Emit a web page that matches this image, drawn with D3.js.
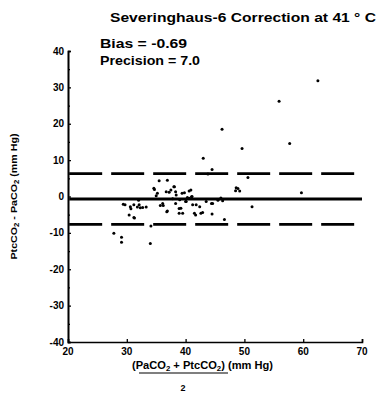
<!DOCTYPE html>
<html>
<head>
<meta charset="utf-8">
<script src="https://cdn.jsdelivr.net/npm/d3@7"></script>
<style>
  html, body { margin: 0; padding: 0; background: #fff; }
  svg { display: block; font-family: "Liberation Sans", Arial, sans-serif; font-weight: bold; }
</style>
</head>
<body>
<div id="chart"></div>
<script>
// mean of the two methods (x) and their difference (y)
const meanVals = [27.8, 29.1, 29.1, 29.4, 29.7, 30.4, 30.6, 30.7, 31.2, 31.2, 31.3, 31.8, 32.1, 32.3, 32.7, 33.3,
  34.0, 34.1, 34.6, 34.7, 35.2, 35.5, 35.7, 36.1, 36.2, 36.7, 36.8, 36.9, 36.9, 37.2, 37.5, 38.0, 38.1, 38.3, 38.3,
  38.4, 38.9, 38.9, 39.2, 39.4, 39.5, 39.8, 40.0, 40.1, 40.6, 40.6, 40.9, 41.1, 41.2, 41.5, 41.7, 41.8, 42.4, 42.6,
  42.9, 43.0, 43.5, 43.8, 44.4, 44.5, 44.5, 44.6, 45.5, 46.2, 46.3, 46.6, 48.5, 48.6, 48.9, 49.2, 49.6, 50.6, 51.3,
  55.9, 57.7, 59.7, 62.5, 35.0, 37.8, 39.0, 40.3, 41.0, 32.0, 46.0];
const diffVals = [-10.1, -11.2, -12.6, -2.1, -2.3, -5.1, -2.8, -3.4, -2.3, -5.8, -5.9, -2.9, -2.3, -3.1, -3.0, -2.9,
  -12.9, -8.1, 2.3, 1.9, 0.9, 4.3, -2.5, -1.9, -2.5, 1.3, -4.2, 4.5, -4.0, 1.2, 1.8, 2.7, 2.7, 1.3, -1.9,
  0.4, -3.3, -4.6, -3.2, 0.9, -4.6, 1.0, -1.4, -1.4, 1.5, -0.5, 1.8, 0.0, -2.3, -4.6, -5.1, -2.3, -2.8, -4.6,
  -4.4, 10.5, -1.4, 6.2, -1.9, 7.4, -4.8, -1.9, -1.0, 18.5, -1.2, -6.3, 1.6, 2.4, 2.2, 1.5, 13.2, 5.2, -2.8,
  26.2, 14.6, 1.0, 31.8, 0.2, -0.6, -0.9, -0.3, -0.1, -1.0, -0.4];

const bias = -0.69;
const precision = 7.0;
const xTicks = [20, 30, 40, 50, 60, 70];
const yTicks = [40, 30, 20, 10, 0, -10, -20, -30, -40];
const yMinor = [35, 25, 15, 5, -5, -15, -25, -35];

const title = "Severinghaus-6 Correction at 41 \u00B0 C";

const points = meanVals.map((m, i) => ({ mean: m, diff: diffVals[i] }));

const width = 380, height = 394;
const margin = { top: 51, right: 18, bottom: 52, left: 68 };
const innerWidth = width - margin.left - margin.right;
const innerHeight = height - margin.top - margin.bottom;

const svg = d3.select("#chart")
  .append("svg")
  .attr("width", width)
  .attr("height", height)
  .attr("viewBox", `0 0 ${width} ${height}`);

const g = svg.append("g")
  .attr("transform", `translate(${margin.left},${margin.top})`);

const x = d3.scaleLinear().domain([20, 70]).range([margin.left, margin.left + innerWidth]);
const y = d3.scaleLinear().domain([-40, 40]).range([margin.top + innerHeight, margin.top]);

// axes (lines and ticks only; labels are placed below from the same scales)
const yAxis = svg.append("g")
  .attr("transform", `translate(${margin.left},0)`)
  .call(d3.axisLeft(y).tickValues(yTicks).tickSize(-3).tickFormat(""));
const yAxisMinor = svg.append("g")
  .attr("transform", `translate(${margin.left},0)`)
  .call(d3.axisLeft(y).tickValues(yMinor).tickSize(-2).tickFormat(""));
const xAxis = svg.append("g")
  .attr("transform", `translate(0,${margin.top + innerHeight})`)
  .call(d3.axisBottom(x).tickValues(xTicks).tickSize(-3).tickFormat(""));

[yAxis, yAxisMinor, xAxis].forEach(a => {
  a.select(".domain").attr("stroke", "#000").attr("stroke-width", 1.6);
  a.selectAll(".tick line").attr("stroke", "#000").attr("stroke-width", 1.3);
  a.selectAll(".tick text").remove();
});

svg.append("g")
  .selectAll("text")
  .data(yTicks)
  .join("text")
  .attr("x", margin.left - 4)
  .attr("y", d => y(d))
  .attr("dy", "0.35em")
  .attr("text-anchor", "end")
  .style("font-size", "10px")
  .text(d => d);

svg.append("g")
  .selectAll("text")
  .data(xTicks)
  .join("text")
  .attr("x", d => x(d))
  .attr("y", margin.top + innerHeight + 13)
  .attr("text-anchor", "middle")
  .style("font-size", "10px")
  .text(d => d);

// bias and limits of agreement
const lines = [
  { v: bias, dash: null },
  { v: bias + precision, dash: "33,9" },
  { v: bias - precision, dash: "33,9" }
];
svg.selectAll("line.ref")
  .data(lines)
  .join("line")
  .attr("class", "ref")
  .attr("x1", x(20.2))
  .attr("x2", x(70))
  .attr("y1", d => y(d.v))
  .attr("y2", d => y(d.v))
  .attr("stroke", "#000")
  .attr("stroke-width", 2.8)
  .attr("stroke-dasharray", d => d.dash);

svg.selectAll("circle")
  .data(points)
  .join("circle")
  .attr("cx", d => x(d.mean))
  .attr("cy", d => y(d.diff))
  .attr("r", 1.5)
  .attr("fill", "#000");

// title and stats
svg.append("text")
  .attr("x", 110)
  .attr("y", 22)
  .attr("textLength", 266)
  .attr("lengthAdjust", "spacingAndGlyphs")
  .style("font-size", "13px")
  .text(title);

svg.append("text")
  .attr("x", 100)
  .attr("y", 48)
  .attr("textLength", 87)
  .attr("lengthAdjust", "spacingAndGlyphs")
  .style("font-size", "13px")
  .text(`Bias = ${bias}`);

svg.append("text")
  .attr("x", 100)
  .attr("y", 65)
  .attr("textLength", 100)
  .attr("lengthAdjust", "spacingAndGlyphs")
  .style("font-size", "13px")
  .text(`Precision = ${precision.toFixed(1)}`);

// y axis label
const yl = svg.append("text")
  .attr("transform", `translate(17,${y(0) + 63}) rotate(-90)`)
  .attr("textLength", 126)
  .attr("lengthAdjust", "spacingAndGlyphs")
  .style("font-size", "9px");
yl.append("tspan").text("PtcCO");
yl.append("tspan").attr("dy", 2).style("font-size", "6.5px").text("2");
yl.append("tspan").attr("dy", -2).text(" - PaCO");
yl.append("tspan").attr("dy", 2).style("font-size", "6.5px").text("2");
yl.append("tspan").attr("dy", -2).text(" (mm Hg)");

// x axis label
const xl = svg.append("text")
  .attr("x", 132)
  .attr("y", 369)
  .attr("textLength", 141)
  .attr("lengthAdjust", "spacingAndGlyphs")
  .style("font-size", "10px");
xl.append("tspan").text("(PaCO");
xl.append("tspan").attr("dy", 2).style("font-size", "7px").text("2");
xl.append("tspan").attr("dy", -2).text(" + PtcCO");
xl.append("tspan").attr("dy", 2).style("font-size", "7px").text("2");
xl.append("tspan").attr("dy", -2).text(") (mm Hg)");

svg.append("line")
  .attr("x1", 139).attr("x2", 228)
  .attr("y1", 373).attr("y2", 373)
  .attr("stroke", "#000").attr("stroke-width", 1.2);

svg.append("text")
  .attr("x", 183)
  .attr("y", 391)
  .attr("text-anchor", "middle")
  .style("font-size", "9px")
  .text("2");
</script>
</body>
</html>
